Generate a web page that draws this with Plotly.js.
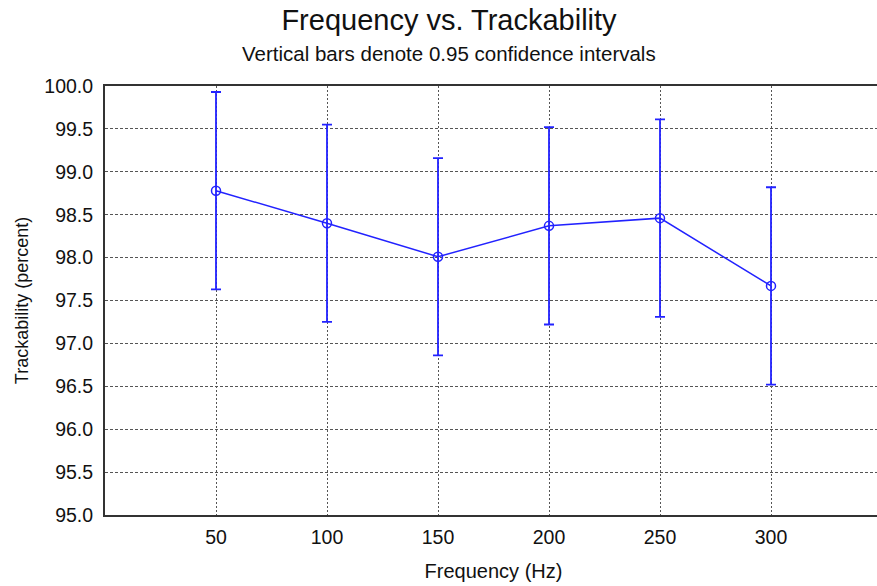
<!DOCTYPE html>
<html>
<head>
<meta charset="utf-8">
<script src="https://cdn.plot.ly/plotly-3.0.1.min.js"></script>
<style>
html,body{margin:0;padding:0;overflow:hidden;background:#fff;}
#chart{width:882px;height:586px;}
</style>
</head>
<body>
<div id="chart"></div>
<script>
const frequency = [50, 100, 150, 200, 250, 300];
const trackability = [98.78, 98.40, 98.01, 98.37, 98.46, 97.67];
const ciHalfWidth = [1.15, 1.15, 1.15, 1.15, 1.15, 1.15];
const xTickValues = [50, 100, 150, 200, 250, 300];
const yTickValues = [95.0, 95.5, 96.0, 96.5, 97.0, 97.5, 98.0, 98.5, 99.0, 99.5, 100.0];

const blue = '#2222ff';
const fontFam = 'Arial, "Liberation Sans", sans-serif';

const trace = {
  x: frequency,
  y: trackability,
  type: 'scatter',
  mode: 'lines+markers',
  line: {color: blue, width: 1.5},
  marker: {symbol: 'circle-open', size: 9, color: blue, line: {color: blue, width: 1.5}},
  error_y: {type: 'data', array: ciHalfWidth, visible: true, color: blue, thickness: 1.8, width: 5},
  showlegend: false,
  hoverinfo: 'x+y'
};

const layout = {
  width: 882, height: 586,
  margin: {l: 105, r: 0, t: 86, b: 71},
  paper_bgcolor: '#fff', plot_bgcolor: '#fff',
  font: {family: fontFam, color: '#111'},
  title: {
    text: 'Frequency vs. Trackability',
    font: {family: fontFam, size: 29, color: '#111'},
    x: 449/882, xanchor: 'center', xref: 'container',
    y: 1 - 20/586, yanchor: 'middle', yref: 'container'
  },
  annotations: [{
    text: 'Vertical bars denote 0.95 confidence intervals',
    xref: 'paper', yref: 'paper',
    x: (449-105)/777, y: (515-53)/429,
    xanchor: 'center', yanchor: 'middle',
    showarrow: false,
    font: {family: fontFam, size: 20.5, color: '#111'}
  }],
  xaxis: {
    range: [0, 350],
    tickvals: xTickValues,
    ticktext: xTickValues.map(String),
    showgrid: true, gridcolor: '#555', griddash: '2px,2px', gridwidth: 1,
    showline: true, linecolor: '#333', linewidth: 2, mirror: true,
    ticks: 'outside', ticklen: 4, tickcolor: 'rgba(0,0,0,0)',
    tickfont: {family: fontFam, size: 19.5, color: '#111'},
    zeroline: false,
    title: {text: 'Frequency (Hz)', font: {family: fontFam, size: 20, color: '#111'}, standoff: 17}
  },
  yaxis: {
    range: [95, 100],
    tickvals: yTickValues,
    ticktext: yTickValues.map(v => v.toFixed(1)),
    showgrid: true, gridcolor: '#555', griddash: '3px,2px', gridwidth: 1,
    showline: true, linecolor: '#333', linewidth: 2, mirror: false,
    ticks: 'outside', ticklen: 6, tickcolor: 'rgba(0,0,0,0)',
    tickfont: {family: fontFam, size: 19.5, color: '#111'},
    zeroline: false,
    title: {text: 'Trackability (percent)', font: {family: fontFam, size: 18, color: '#111'}, standoff: 11}
  }
};

Plotly.newPlot('chart', [trace], layout, {staticPlot: true, displayModeBar: false});
</script>
</body>
</html>
